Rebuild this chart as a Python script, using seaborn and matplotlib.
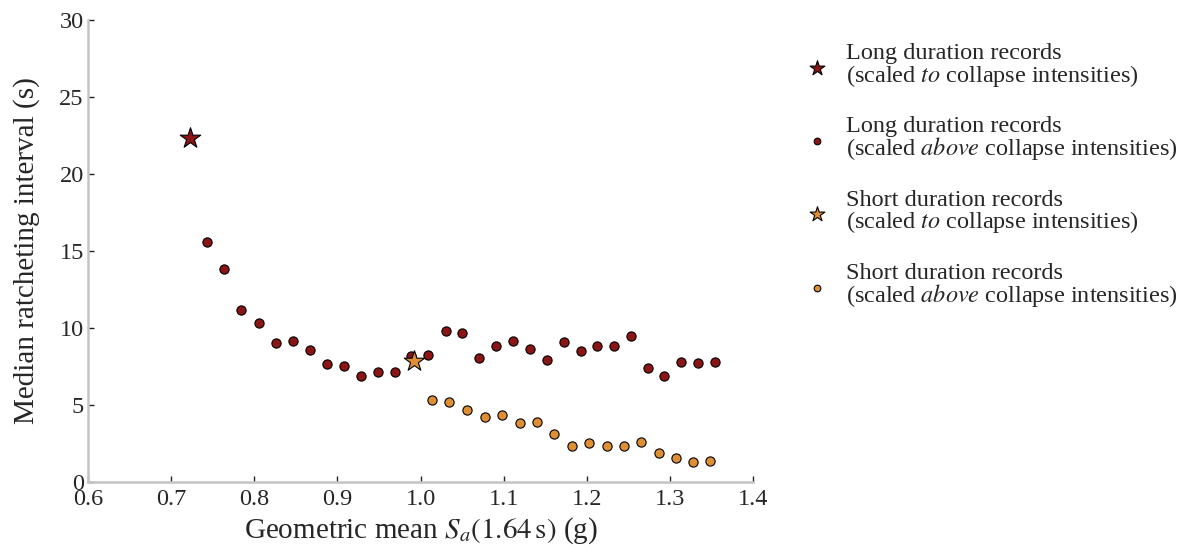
import numpy as np
import pandas as pd
import matplotlib
matplotlib.use("Agg")
import matplotlib.pyplot as plt
import seaborn as sns

# ---------------- data ----------------
long_to_x = [0.7225]
long_to_y = [22.32]

long_above_x = [0.7433, 0.7637, 0.7846, 0.8054, 0.8258, 0.8462, 0.8667, 0.8871,
                0.9079, 0.9283, 0.9483, 0.9688, 0.9884, 1.0092, 1.0304, 1.0504,
                1.0705, 1.0913, 1.1113, 1.1318, 1.1522, 1.1721, 1.1926, 1.2126,
                1.2330, 1.2535, 1.2739, 1.2934, 1.3139, 1.3343, 1.3543]
long_above_y = [15.58, 13.83, 11.15, 10.32, 9.05, 9.16, 8.59, 7.64,
                7.53, 6.88, 7.12, 7.12, 8.20, 8.23, 9.81, 9.69,
                8.03, 8.85, 9.16, 8.66, 7.94, 9.09, 8.53, 8.85,
                8.81, 9.50, 7.40, 6.86, 7.79, 7.75, 7.81]

short_to_x = [0.9920]
short_to_y = [7.88]

short_above_x = [1.0141, 1.0348, 1.0561, 1.0772, 1.0985, 1.1197, 1.1405, 1.1610,
                 1.1822, 1.2030, 1.2242, 1.2450, 1.2658, 1.2867, 1.3071, 1.3279, 1.3483]
short_above_y = [5.32, 5.21, 4.66, 4.24, 4.35, 3.81, 3.92, 3.10,
                 2.36, 2.51, 2.36, 2.32, 2.60, 1.86, 1.54, 1.30, 1.34]

labels = [
    "Long duration records\n(scaled $\\mathit{to}$ collapse intensities)",
    "Long duration records\n(scaled $\\mathit{above}$ collapse intensities)",
    "Short duration records\n(scaled $\\mathit{to}$ collapse intensities)",
    "Short duration records\n(scaled $\\mathit{above}$ collapse intensities)",
]
x_ticks = [0.6, 0.7, 0.8, 0.9, 1.0, 1.1, 1.2, 1.3, 1.4]
y_ticks = [0, 5, 10, 15, 20, 25, 30]

RED = "#8b1414"
ORANGE = "#de8f33"

# ---------------- style ----------------
sns.set_style("ticks")
plt.rcParams["font.family"] = ["Liberation Serif", "DejaVu Serif"]
plt.rcParams["mathtext.fontset"] = "stix"

fig = plt.figure(figsize=(11.82, 5.54), dpi=100)
ax = fig.add_axes([88 / 1182, 72 / 554, (753 - 88) / 1182, (482 - 20) / 554])

sns.scatterplot(x=long_to_x, y=long_to_y, marker="*", s=240, color=RED,
                edgecolor="black", linewidth=0.8, ax=ax, label=labels[0], zorder=3)
sns.scatterplot(x=long_above_x, y=long_above_y, marker="o", s=44, color=RED,
                edgecolor="black", linewidth=0.8, ax=ax, label=labels[1], zorder=3)
sns.scatterplot(x=short_to_x, y=short_to_y, marker="*", s=240, color=ORANGE,
                edgecolor="black", linewidth=0.8, ax=ax, label=labels[2], zorder=4)
sns.scatterplot(x=short_above_x, y=short_above_y, marker="o", s=44, color=ORANGE,
                edgecolor="black", linewidth=0.8, ax=ax, label=labels[3], zorder=3)

ax.set_xlim(0.6, 1.4)
ax.set_ylim(0, 30)
ax.set_xticks(x_ticks)
ax.set_xticklabels([f"{v:.1f}" for v in x_ticks])
ax.set_yticks(y_ticks)
ax.set_yticklabels([str(v) for v in y_ticks])
ax.tick_params(direction="in", length=4, width=1, color="#222222",
               labelsize=17.5)
ax.tick_params(axis="x", pad=5)
ax.tick_params(axis="y", pad=3)
sns.despine(ax=ax)
for sp in ("left", "bottom"):
    ax.spines[sp].set_color("#c4c4c4")
    ax.spines[sp].set_linewidth(1.8)

ax.set_xlabel("Geometric mean $S_a(1.64\\,\\mathrm{s})$ (g)", fontsize=21, labelpad=4)
ax.set_ylabel("Median ratcheting interval (s)", fontsize=21, labelpad=14)

leg = ax.legend(loc="upper left", bbox_to_anchor=(793 / 1182, 1 - 31 / 554),
                bbox_transform=fig.transFigure, frameon=False, fontsize=17.5,
                markerscale=0.72, labelspacing=1.13, handlelength=1.0,
                handletextpad=0.7, borderpad=0)
for t in leg.get_texts():
    t.set_linespacing(0.92)

fig.savefig("out.png", dpi=100)
